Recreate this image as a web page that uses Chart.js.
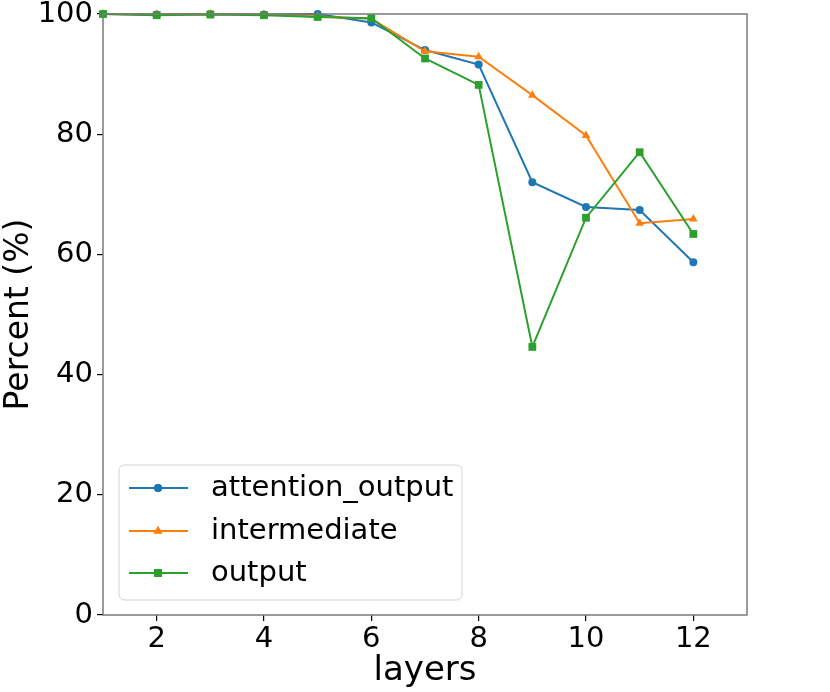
<!DOCTYPE html>
<html>
<head>
<meta charset="utf-8">
<script src="https://cdn.jsdelivr.net/npm/chart.js@4"></script>
<style>
html,body{margin:0;padding:0;background:#fff;}
#wrap{width:830px;height:692px;}
</style>
</head>
<body>
<div id="wrap"><canvas id="c" width="830" height="692"></canvas></div>
<script>
const layers = [1,2,3,4,5,6,7,8,9,10,11,12];
const attentionOutput = [100,99.9,100,99.9,100,98.6,94.0,91.6,72.0,67.9,67.4,58.7];
const intermediate = [100,99.9,100,99.9,99.6,99.2,93.8,92.9,86.5,79.8,65.2,65.9];
const output = [100,99.8,99.9,99.8,99.5,99.3,92.6,88.2,44.6,66.1,77.0,63.4];
const seriesNames = ['attention_output','intermediate','output'];
const yTicks = [0,20,40,60,80,100];
const xTicks = [2,4,6,8,10,12];

const colors = ['#1f77b4','#ff7f0e','#2ca02c'];
const styles = ['circle','triangle','rect'];
const radii = [4,5,5.5];
const seriesData = [attentionOutput, intermediate, output];

const FONT = "'DejaVu Sans', sans-serif";

const datasets = seriesData.map((vals,i)=>({
  label: seriesNames[i],
  data: layers.map((x,j)=>({x:x,y:vals[j]})),
  borderColor: colors[i],
  backgroundColor: colors[i],
  borderWidth: 2,
  pointStyle: styles[i],
  pointRadius: radii[i],
  pointBorderWidth: 0,
  pointHoverRadius: radii[i],
  order: 3 - i,
  tension: 0,
  clip: false
}));

const boxPlugin = {
  id:'box',
  afterDatasetsDraw(chart){
    const {ctx, chartArea:a} = chart;
    ctx.save();
    ctx.strokeStyle = '#7a7a7a';
    ctx.lineWidth = 1.5;
    ctx.strokeRect(a.left, a.top, a.right-a.left, a.bottom-a.top);
    ctx.restore();
  }
};

const legendPlugin = {
  id:'insideLegend',
  afterDraw(chart){
    const ctx = chart.ctx;
    const x0=119, y0=465, w=343, h=135, r=6;
    ctx.save();
    ctx.beginPath();
    ctx.moveTo(x0+r,y0);
    ctx.lineTo(x0+w-r,y0); ctx.quadraticCurveTo(x0+w,y0,x0+w,y0+r);
    ctx.lineTo(x0+w,y0+h-r); ctx.quadraticCurveTo(x0+w,y0+h,x0+w-r,y0+h);
    ctx.lineTo(x0+r,y0+h); ctx.quadraticCurveTo(x0,y0+h,x0,y0+h-r);
    ctx.lineTo(x0,y0+r); ctx.quadraticCurveTo(x0,y0,x0+r,y0);
    ctx.closePath();
    ctx.fillStyle='rgba(255,255,255,0.8)';
    ctx.fill();
    ctx.strokeStyle='#d3d3d3';
    ctx.lineWidth=1;
    ctx.stroke();
    const rows=[488,531,573];
    seriesNames.forEach((name,i)=>{
      const y=rows[i];
      ctx.strokeStyle=colors[i];
      ctx.lineWidth=2;
      ctx.beginPath(); ctx.moveTo(129,y); ctx.lineTo(188,y); ctx.stroke();
      ctx.fillStyle=colors[i];
      Chart.helpers.drawPoint(ctx,{pointStyle:styles[i],radius:radii[i],borderWidth:0},158,y);
      ctx.fill();
      ctx.fillStyle='#000';
      ctx.font="29px "+FONT;
      ctx.textBaseline='middle';
      ctx.textAlign='left';
      ctx.fillText(name,211,y);
    });
    ctx.restore();
  }
};

new Chart(document.getElementById('c'),{
  type:'line',
  data:{datasets},
  options:{
    responsive:false,
    animation:false,
    devicePixelRatio:1,
    layout:{padding:{top:14,right:83,left:0,bottom:0}},
    plugins:{legend:{display:false},tooltip:{enabled:false}},
    scales:{
      x:{
        type:'linear',min:1,max:13,
        afterBuildTicks(s){ s.ticks = xTicks.map(v=>({value:v})); },
        afterFit(s){ s.height = 77; s.paddingLeft = 0; s.paddingRight = 0; },
        grid:{drawOnChartArea:false,drawTicks:true,tickLength:6,color:'#000',lineWidth:1.2},
        border:{display:false},
        ticks:{color:'#000',font:{family:FONT,size:29},padding:1,maxRotation:0,autoSkip:false},
        title:{display:true,text:'layers',color:'#000',font:{family:FONT,size:34},padding:{top:0,bottom:0}}
      },
      y:{
        min:0,max:100,
        afterBuildTicks(s){ s.ticks = yTicks.map(v=>({value:v})); },
        afterFit(s){ s.width = 103; s.paddingTop = 0; s.paddingBottom = 0; },
        grid:{drawOnChartArea:false,drawTicks:true,tickLength:6,color:'#000',lineWidth:1.2},
        border:{display:false},
        ticks:{color:'#000',font:{family:FONT,size:29},padding:4,autoSkip:false},
        title:{display:true,text:'Percent (%)',color:'#000',font:{family:FONT,size:33},padding:{top:0,bottom:2}}
      }
    }
  },
  plugins:[boxPlugin,legendPlugin]
});
</script>
</body>
</html>
